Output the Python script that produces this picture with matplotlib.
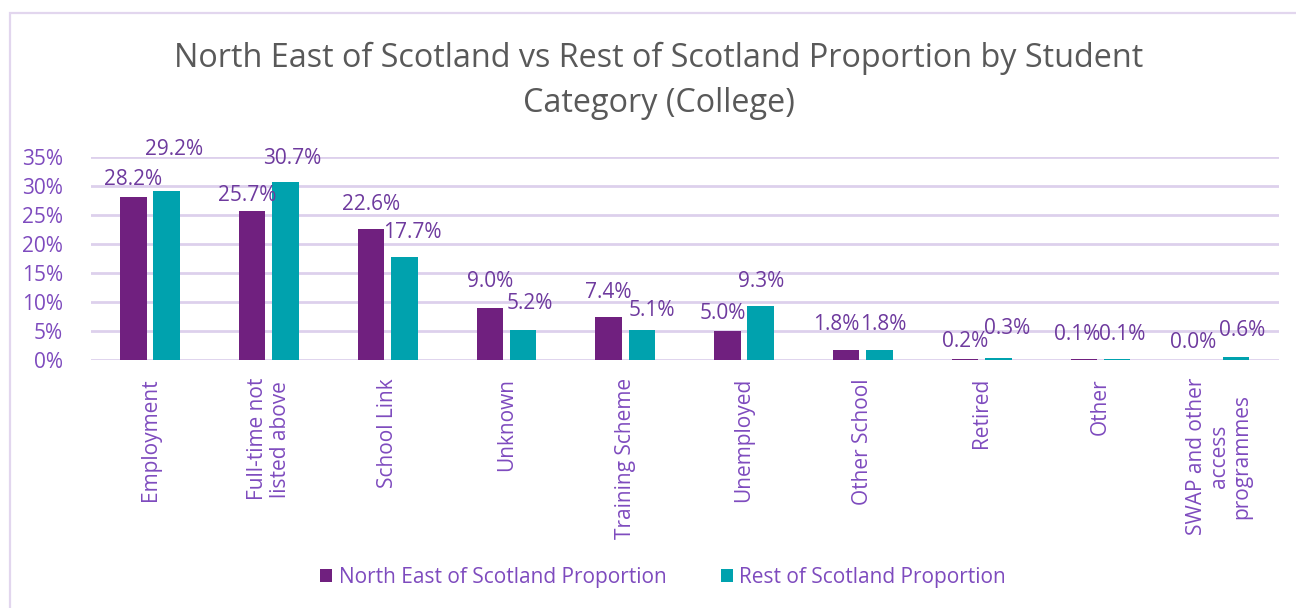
import matplotlib
matplotlib.use("Agg")
import matplotlib.pyplot as plt
from matplotlib.patches import Rectangle, Patch
from matplotlib.ticker import FuncFormatter, MultipleLocator

plt.rcParams['font.family'] = ['Open Sans', 'DejaVu Sans']

# Data
categories = ["Employment", "Full-time not\nlisted above", "School Link", "Unknown",
              "Training Scheme", "Unemployed", "Other School", "Retired", "Other",
              "SWAP and other\naccess\nprogrammes"]
north_east = [28.2, 25.7, 22.6, 9.0, 7.4, 5.0, 1.8, 0.2, 0.1, 0.0]
rest_of_scotland = [29.2, 30.7, 17.7, 5.2, 5.1, 9.3, 1.8, 0.3, 0.1, 0.6]
series_names = ["North East of Scotland Proportion", "Rest of Scotland Proportion"]

# Label nudges (pixels) so overlapping value labels stay readable
ne_nudge = [(0, 17), (-5, 16), (0, 25), (0, 26), (0, 25), (-5, 18), (-10, 25), (0, 17), (-7, 25), (-10, 17)]
rs_nudge = [(7, 41), (7, 24), (8, 25), (7, 26), (10, 20), (0, 25), (4, 25), (9, 30), (5, 25), (6, 26)]

C_NE = "#70207F"
C_RS = "#00A2AE"
C_TXT = "#7E4BBE"
C_VAL = "#6E3A9E"
C_GRID = "#DDD0EC"

W, H = 1296, 608
fig = plt.figure(figsize=(W / 100, H / 100), dpi=100)

# Chart-area border
fig.patches.append(Rectangle((10 / W, -0.05), 1.1, (H - 13) / H + 0.05,
                             transform=fig.transFigure, fill=False,
                             edgecolor="#E2D6EE", linewidth=1.6, zorder=0))

ax = fig.add_axes([90.6 / W, (H - 360) / H, (1278.7 - 90.6) / W, 202.7 / H])

x = list(range(len(categories)))
bw = 0.223
off = 0.14
b1 = ax.bar([i - off for i in x], north_east, bw, color=C_NE, zorder=3, label=series_names[0])
b2 = ax.bar([i + off for i in x], rest_of_scotland, bw, color=C_RS, zorder=3, label=series_names[1])

for bars, vals, nudges in ((b1, north_east, ne_nudge), (b2, rest_of_scotland, rs_nudge)):
    for bar, v, (dx, dy) in zip(bars, vals, nudges):
        ax.annotate(f"{v:.1f}%", (bar.get_x() + bar.get_width() / 2, v),
                    xytext=(dx, dy), textcoords="offset pixels",
                    ha="center", va="center", fontsize=15, color=C_VAL, zorder=4)

ax.set_xlim(-0.5, len(categories) - 0.5)
ax.set_ylim(0, 35)
ax.yaxis.set_major_locator(MultipleLocator(5))
ax.yaxis.set_major_formatter(FuncFormatter(lambda v, p: f"{v:.0f}%"))
ax.grid(axis="y", color=C_GRID, linewidth=2, zorder=0)
ax.set_axisbelow(True)
for s in ax.spines.values():
    s.set_visible(False)

ax.set_xticks(x)
ax.set_xticklabels(categories, rotation=90, ha="center", va="top",
                   multialignment="center", fontsize=15, color=C_TXT, linespacing=1.1)
ax.tick_params(axis="x", length=0, pad=13)
ax.tick_params(axis="y", length=0, pad=20, labelsize=15, labelcolor=C_TXT)

fig.text(659 / W, 1 - 81 / H, "North East of Scotland vs Rest of Scotland Proportion by Student\nCategory (College)",
         ha="center", va="center", fontsize=23.3, color="#595959", linespacing=1.45)

handles = [Patch(facecolor=C_NE), Patch(facecolor=C_RS)]
fig.legend(handles, series_names, loc="center", bbox_to_anchor=(663 / W, 1 - 577 / H),
           ncol=2, frameon=False, fontsize=15, labelcolor=C_TXT,
           handlelength=0.6, handleheight=0.6, handletextpad=0.3, columnspacing=2.6)

fig.savefig("out.png", dpi=100, facecolor="white")
